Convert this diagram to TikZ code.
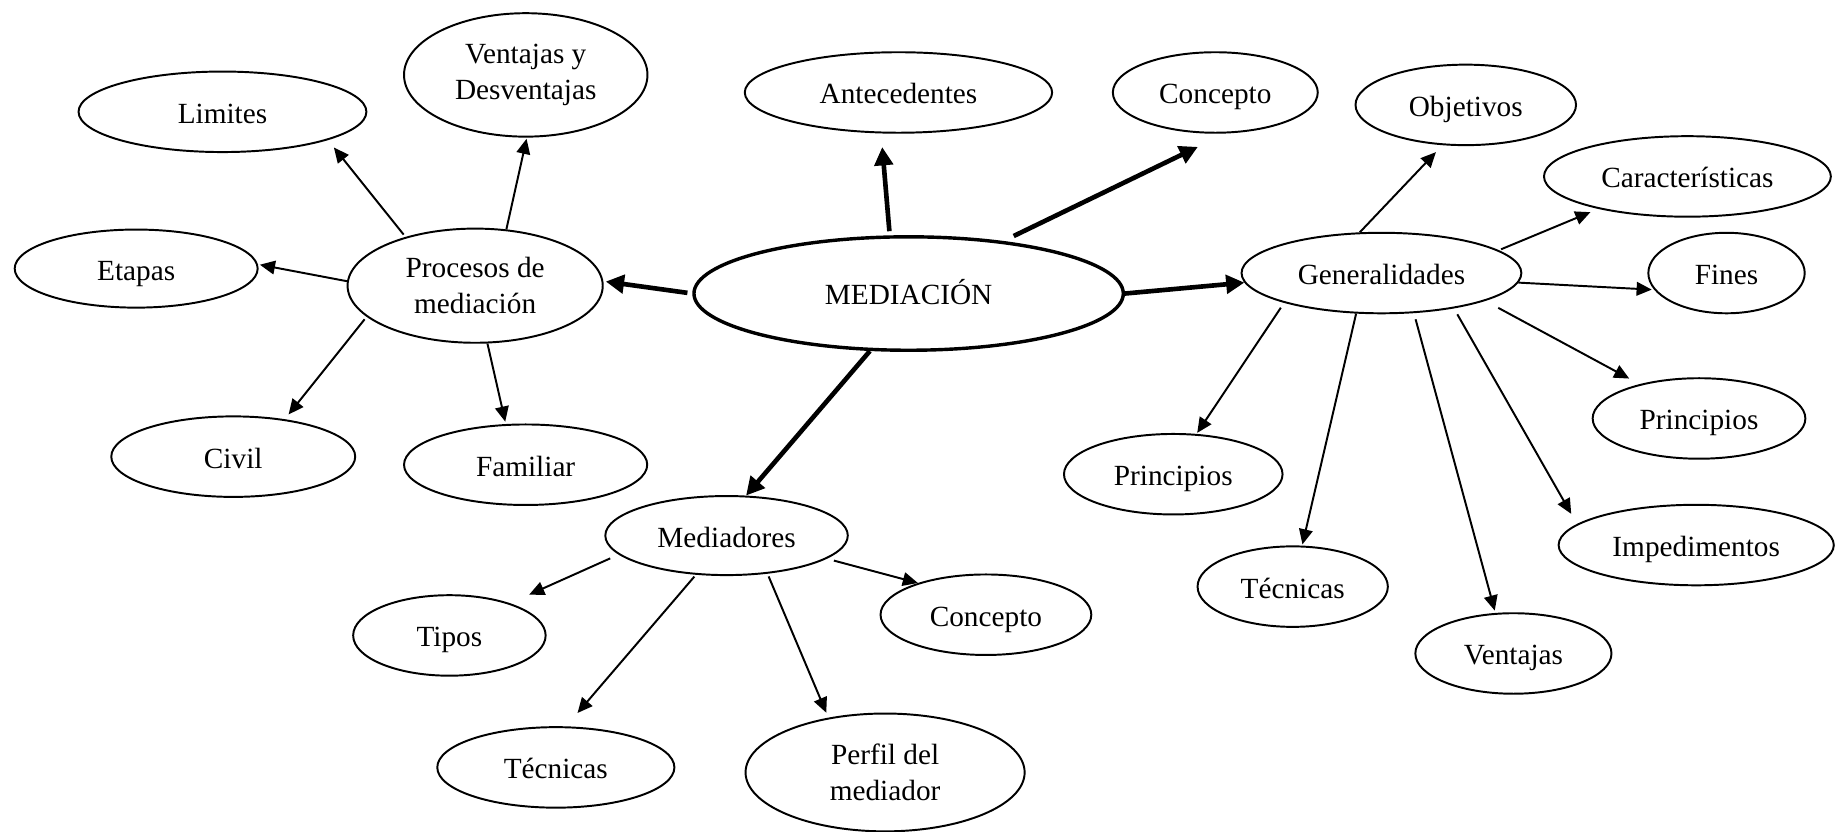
\documentclass[tikz,border=0pt]{standalone}
\usepackage{fontspec}
\setmainfont{Liberation Serif}
\usetikzlibrary{shapes.geometric,arrows.meta}

\begin{document}
\begin{tikzpicture}[
  x=0.48pt, y=0.48pt,
  every node/.style={draw, ellipse, line width=0.8pt, inner sep=2pt, minimum height=33pt, align=center, text height=9.4pt, text depth=0pt, font=\fontsize{12}{14.8}\selectfont},
  twolines/.style={text height=, text depth=},
  arrow/.style={-{Triangle[length=6.2pt,width=5.6pt]}, line width=0.8pt},
  bigarrow/.style={-{Triangle[length=7.5pt,width=7.5pt]}, line width=1.9pt}
]
\useasboundingbox (0,0) rectangle (1568,710);

\node (med) [minimum width=176pt, minimum height=46.5pt, line width=1.4pt] at (776,459.3) {MEDIACIÓN};

\node (proc) [twolines, minimum width=104.6pt, minimum height=46.8pt] at (405.8,466) {Procesos de\\mediación};
\node (lim) [minimum width=118pt] at (190,614.5) {Limites};
\node (vent) [twolines, minimum width=99.8pt, minimum height=50.6pt] at (449,646) {Ventajas y\\Desventajas};
\node (eta) [minimum width=99.6pt, minimum height=32pt] at (116.3,480.6) {Etapas};
\node (civ) [minimum width=100pt] at (199.2,320) {Civil};
\node (fam) [minimum width=99.7pt] at (448.9,313.1) {Familiar};

\node (ant) [minimum width=126pt] at (767.3,631) {Antecedentes};
\node (conT) [minimum width=84pt] at (1037.9,631) {Concepto};

\node (gen) [minimum width=114.7pt] at (1179.8,476.8) {Generalidades};
\node (obj) [minimum width=90.4pt] at (1251.8,620.4) {Objetivos};
\node (car) [minimum width=117.6pt] at (1441.1,559.3) {Características};
\node (fin) [minimum width=64.1pt] at (1474.5,476.8) {Fines};
\node (prR) [minimum width=87.2pt] at (1451,352.6) {Principios};
\node (prL) [minimum width=89.6pt] at (1002,305) {Principios};
\node (tecR) [minimum width=78pt] at (1104,209) {Técnicas};
\node (ven) [minimum width=80.4pt] at (1292.5,151.9) {Ventajas};
\node (imp) [minimum width=112.8pt] at (1448.6,244.5) {Impedimentos};

\node (medr) [minimum width=99.4pt, minimum height=32.4pt] at (620.5,252.6) {Mediadores};
\node (tip) [minimum width=78.9pt] at (383.8,167.3) {Tipos};
\node (conB) [minimum width=86.4pt] at (842,185) {Concepto};
\node (tecB) [minimum width=97.2pt] at (474.7,54.6) {Técnicas};
\node (per) [twolines, minimum width=114.4pt, minimum height=48.3pt] at (755.9,50.3) {Perfil del\\mediador};

\draw[bigarrow, shorten <=2pt, shorten >=1pt] (med.180) -- (proc.2);
\draw[bigarrow, shorten <=1.7pt, shorten >=5.6pt] (med.108) -- (ant.247);
\draw[bigarrow, shorten <=4.7pt, shorten >=12.6pt] (med.29) -- (conT.284);
\draw[bigarrow] (med.0) -- (gen.184);
\draw[bigarrow] (med.236) -- (medr.64);

\draw[arrow, shorten <=1.2pt, shorten >=3.9pt] (proc.145) -- (lim.345);
\draw[arrow, shorten >=0.5pt] (proc.61) -- (vent.271);
\draw[arrow, shorten >=0.8pt] (proc.178) -- (eta.2);
\draw[arrow, shorten <=1.3pt, shorten >=2.5pt] (proc.196) -- (civ.36);
\draw[arrow, shorten >=1pt] (proc.282) -- (fam.116);

\draw[arrow, shorten >=3.9pt] (gen.118) -- (obj.240);
\draw[arrow, shorten <=1pt, shorten >=3.5pt] (gen.11) -- (car.200);
\draw[arrow, shorten >=1pt] (gen.356) -- (fin.193);
\draw[arrow, shorten <=6pt, shorten >=4.8pt] (gen.345) -- (prR.150);
\draw[arrow, shorten <=2.8pt, shorten >=4.8pt] (gen.334) -- (imp.170);
\draw[arrow, shorten <=2.6pt, shorten >=1pt] (gen.309) -- (ven.114);
\draw[arrow, shorten >=0.5pt] (gen.238) -- (tecR.77);
\draw[arrow, shorten <=2.4pt, shorten >=0.5pt] (gen.197) -- (prL.60);

\draw[arrow, shorten <=3.8pt, shorten >=8.6pt] (medr.190) -- (tip.28);
\draw[arrow, shorten <=3pt] (medr.347) -- (conB.155);
\draw[arrow, shorten <=1pt, shorten >=7.2pt] (medr.232) -- (tecB.76);
\draw[arrow, shorten <=1.2pt, shorten >=2.2pt] (medr.317) -- (per.136);
\end{tikzpicture}
\end{document}
